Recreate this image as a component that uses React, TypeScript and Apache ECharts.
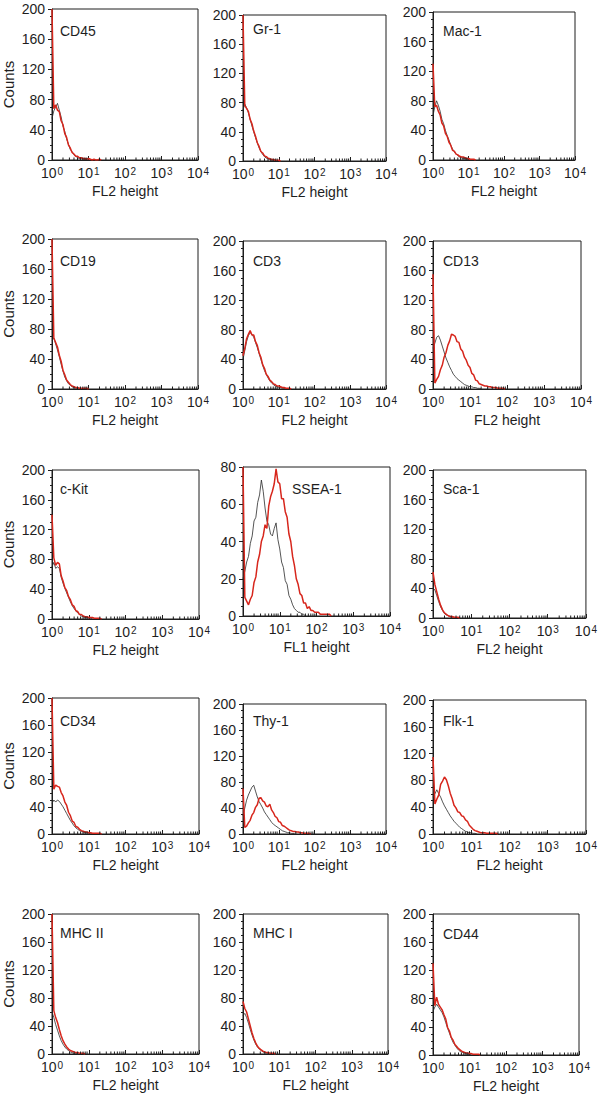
import React, { useEffect, useRef } from "react";
import * as echarts from "echarts";

// Histogram channels: channel i sits at 10^(i * CHANNEL_STEP)
const CHANNEL_STEP = 0.05;

const markers = ["CD45", "Gr-1", "Mac-1", "CD19", "CD3", "CD13", "c-Kit", "SSEA-1", "Sca-1", "CD34", "Thy-1", "Flk-1", "MHC II", "MHC I", "CD44"];
const xAxisNames = ["FL2 height", "FL2 height", "FL2 height", "FL2 height", "FL2 height", "FL2 height", "FL2 height", "FL1 height", "FL2 height", "FL2 height", "FL2 height", "FL2 height", "FL2 height", "FL2 height", "FL2 height"];
const yMaxes = [200, 200, 200, 200, 200, 200, 200, 80, 200, 200, 200, 200, 200, 200, 200];
const yIntervals = [40, 40, 40, 40, 40, 40, 40, 20, 40, 40, 40, 40, 40, 40, 40];
const decadeTicks = [1, 10, 100, 1000, 10000];
const minorDecadeSteps = [2, 3, 4, 5, 6, 7, 8, 9];

// stained sample (red) and isotype control (black), counts per channel
const cd45Stained = [200, 68, 73, 66, 64, 52, 47, 35, 30, 20, 16, 10, 8, 5, 5, 3, 3, 2, 2, 1, 2, 1, 0, 1, 0, 0, 1, 0];
const cd45Control = [55, 65, 70, 75, 66, 57, 45, 38, 28, 21, 14, 11, 7, 5, 3, 2, 2, 1, 1, 0];
const gr1Stained = [200, 76, 72, 68, 57, 51, 41, 34, 25, 20, 13, 11, 7, 6, 4, 3, 2, 2, 1, 1, 1, 0];
const gr1Control = [70, 78, 73, 66, 57, 48, 40, 32, 25, 18, 13, 9, 6, 4, 3, 2, 1, 1, 0];
const mac1Stained = [130, 72, 74, 66, 61, 50, 46, 36, 32, 24, 20, 13, 12, 8, 7, 5, 4, 4, 3, 2, 2, 1, 1, 1, 0];
const mac1Control = [60, 72, 80, 74, 66, 55, 49, 40, 33, 27, 20, 15, 11, 8, 6, 4, 3, 2, 2, 1, 1, 0];
const cd19Stained = [200, 68, 62, 56, 45, 37, 25, 19, 12, 9, 6, 4, 3, 2, 2, 1, 1, 1, 1, 1, 0];
const cd19Control = [65, 68, 60, 52, 43, 33, 24, 16, 11, 7, 5, 3, 2, 1, 1, 0];
const cd3Stained = [45, 55, 68, 74, 79, 73, 73, 64, 59, 49, 43, 33, 28, 20, 17, 12, 10, 7, 6, 4, 4, 3, 2, 2, 1, 1, 1, 0];
const cd3Control = [40, 52, 64, 72, 76, 74, 70, 63, 56, 48, 40, 32, 25, 20, 15, 11, 8, 6, 4, 3, 2, 2, 1, 1, 0];
const cd13Stained = [155, 8, 13, 17, 26, 32, 43, 49, 59, 65, 74, 73, 71, 64, 63, 54, 51, 43, 39, 32, 29, 21, 19, 12, 11, 7, 6, 5, 4, 4, 3, 3, 2, 2, 2, 1, 1, 1, 1, 0];
const cd13Control = [55, 62, 70, 72, 66, 58, 50, 42, 36, 30, 25, 20, 17, 14, 12, 10, 8, 6, 5, 4, 3, 3, 2, 2, 1, 1, 0];
const cKitStained = [140, 82, 72, 76, 74, 58, 51, 42, 38, 30, 26, 19, 17, 11, 10, 6, 6, 4, 3, 3, 2, 2, 2, 1, 1, 1, 1, 0];
const cKitControl = [70, 76, 68, 70, 68, 56, 48, 41, 35, 29, 23, 18, 14, 11, 8, 6, 4, 3, 2, 2, 1, 1, 0];
const ssea1Stained = [80, 10, 8, 6, 9, 11, 18, 21, 29, 33, 40, 43, 49, 47, 59, 64, 67, 71, 79, 72, 71, 63, 63, 56, 53, 44, 40, 32, 27, 20, 17, 12, 11, 7, 7, 4, 5, 3, 3, 2, 2, 2, 1, 1, 1, 1, 1, 1, 0];
const ssea1Control = [20, 24, 29, 32, 39, 43, 51, 53, 61, 65, 73, 67, 58, 51, 49, 44, 43, 47, 50, 41, 36, 29, 26, 19, 17, 11, 9, 6, 4, 3, 2, 2, 1, 1, 0];
const sca1Stained = [62, 45, 35, 25, 17, 11, 7, 5, 3, 2, 2, 1, 1, 1, 0];
const sca1Control = [40, 38, 30, 22, 15, 10, 6, 4, 3, 2, 1, 1, 0];
const cd34Stained = [200, 66, 72, 70, 69, 61, 56, 47, 42, 32, 27, 19, 17, 11, 10, 7, 5, 4, 3, 3, 2, 2, 1, 1, 1, 1, 1, 0];
const cd34Control = [45, 50, 47, 50, 48, 44, 40, 35, 30, 25, 20, 16, 12, 9, 7, 5, 4, 3, 2, 2, 1, 1, 0];
const thy1Stained = [70, 10, 12, 17, 21, 29, 33, 41, 45, 55, 56, 51, 49, 43, 42, 46, 37, 33, 27, 25, 19, 18, 13, 12, 10, 8, 6, 5, 4, 4, 3, 3, 2, 2, 1, 1, 1, 1, 0];
const thy1Control = [28, 40, 52, 60, 66, 72, 75, 66, 57, 50, 45, 40, 34, 30, 26, 22, 18, 15, 13, 11, 9, 7, 5, 4, 3, 2, 2, 1, 1, 0];
const flk1Stained = [115, 45, 52, 58, 74, 79, 85, 81, 72, 61, 53, 43, 39, 33, 32, 27, 26, 21, 19, 13, 10, 7, 5, 4, 3, 2, 2, 2, 1, 1, 1, 1, 1, 1, 0];
const flk1Control = [55, 60, 66, 60, 55, 48, 42, 37, 32, 27, 23, 19, 16, 13, 10, 8, 6, 4, 3, 2, 2, 1, 1, 0];
const mhc2Stained = [200, 62, 52, 45, 35, 26, 19, 14, 10, 7, 5, 4, 3, 2, 2, 1, 1, 1, 0];
const mhc2Control = [60, 52, 42, 34, 26, 19, 14, 10, 7, 5, 3, 2, 1, 1, 0];
const mhc1Stained = [75, 65, 60, 50, 40, 30, 22, 16, 11, 8, 6, 4, 3, 2, 2, 1, 1, 1, 0];
const mhc1Control = [55, 58, 52, 44, 35, 27, 20, 14, 10, 7, 5, 3, 2, 1, 1, 0];
const cd44Stained = [130, 70, 82, 72, 68, 64, 57, 51, 39, 34, 25, 21, 15, 12, 9, 7, 5, 4, 3, 3, 2, 2, 1, 1, 1, 1, 0];
const cd44Control = [62, 68, 72, 68, 64, 60, 54, 46, 38, 31, 24, 18, 14, 10, 7, 5, 4, 3, 2, 1, 1, 0];

const stainedSeries = [cd45Stained, gr1Stained, mac1Stained, cd19Stained, cd3Stained, cd13Stained, cKitStained, ssea1Stained, sca1Stained, cd34Stained, thy1Stained, flk1Stained, mhc2Stained, mhc1Stained, cd44Stained];
const controlSeries = [cd45Control, gr1Control, mac1Control, cd19Control, cd3Control, cd13Control, cKitControl, ssea1Control, sca1Control, cd34Control, thy1Control, flk1Control, mhc2Control, mhc1Control, cd44Control];

// panel plot boxes: [left, top, right, bottom] in px
const boxes = [
  [50, 9, 198, 160], [243, 15, 386, 161], [433, 12, 575, 160],
  [50, 239, 198, 389], [243, 241, 386, 389], [433, 241, 581, 389],
  [50, 470, 199, 619], [243, 467, 390, 616], [433, 470, 587, 618],
  [50, 698, 199, 834], [243, 704, 386, 834], [433, 700, 589, 834],
  [50, 914, 199, 1054], [243, 914, 388, 1054], [433, 914, 579, 1055],
];
const labelOffsetX = [10, 10, 10, 10, 10, 10, 10, 49, 10, 10, 10, 10, 10, 10, 10];
const labelCenterY = [32, 30, 32, 262, 262, 262, 490, 490, 490, 722, 722, 722, 934, 934, 935];

const FONT = "'Liberation Sans', Arial, Helvetica, sans-serif";
const RED = "#d7261c";
const INK = "#1e1e1e";

const toPoints = (counts: number[]) => counts.map((c, i) => [Math.pow(10, i * CHANNEL_STEP), c]);

export default function App() {
  const ref = useRef<HTMLDivElement>(null);
  useEffect(() => {
    if (!ref.current) return;
    const chart = echarts.init(ref.current, null, { renderer: "svg" });
    const minorVals: number[] = [];
    for (let d = 0; d < 4; d++) for (const k of minorDecadeSteps) minorVals.push(k * Math.pow(10, d));

    const grid: any[] = [];
    const xAxis: any[] = [];
    const yAxis: any[] = [];
    const series: any[] = [];
    const graphic: any[] = [];

    boxes.forEach((b, i) => {
      const [l, t, r, bt] = b;
      grid.push({ left: l, top: t, width: r - l, height: bt - t, show: true, borderColor: INK, borderWidth: 1, backgroundColor: "transparent" });
      xAxis.push({
        type: "log", logBase: 10, min: decadeTicks[0], max: decadeTicks[decadeTicks.length - 1], gridIndex: i,
        name: xAxisNames[i], nameLocation: "middle", nameGap: 24,
        nameTextStyle: { fontFamily: FONT, fontSize: 14, color: INK },
        axisLine: { lineStyle: { color: INK, width: 1 } },
        axisTick: { inside: true, length: 4, lineStyle: { color: INK } },
        splitLine: { show: false },
        axisLabel: {
          margin: 6, color: INK, fontFamily: FONT,
          formatter: (v: number) => `{b|10}{s|${Math.round(Math.log10(v))}}`,
          rich: {
            b: { fontSize: 14, fontFamily: FONT, color: INK, verticalAlign: "bottom" },
            s: { fontSize: 10, fontFamily: FONT, color: INK, verticalAlign: "top", padding: [0, 0, 0, 1] },
          },
        },
      });
      yAxis.push({
        type: "value", min: 0, max: yMaxes[i], interval: yIntervals[i], gridIndex: i,
        name: i % 3 === 0 ? "Counts" : "", nameLocation: "middle", nameGap: 36,
        nameTextStyle: { fontFamily: FONT, fontSize: 15, color: INK },
        axisLine: { show: true, lineStyle: { color: INK, width: 1 } },
        axisTick: { show: true, length: 4, lineStyle: { color: INK } },
        minorTick: { show: true, splitNumber: 4, length: 2, lineStyle: { color: INK } },
        splitLine: { show: false },
        axisLabel: { margin: 7, fontSize: 14, fontFamily: FONT, color: INK },
      });
      series.push({
        type: "line", xAxisIndex: i, yAxisIndex: i, data: toPoints(controlSeries[i]), showSymbol: false, symbol: "none",
        lineStyle: { color: "#2a2a2a", width: 0.8 }, z: 2,
      });
      series.push({
        type: "line", xAxisIndex: i, yAxisIndex: i, data: toPoints(stainedSeries[i]), showSymbol: false, symbol: "none",
        lineStyle: { color: RED, width: 1.5 }, z: 3,
      });
      series.push({
        type: "custom", xAxisIndex: i, yAxisIndex: i, silent: true, z: 4,
        data: minorVals.map((v) => [v, 0]),
        encode: { x: 0, y: 1 },
        renderItem: (params: any, api: any) => {
          const p = api.coord([api.value(0), 0]);
          return { type: "line", shape: { x1: p[0], y1: p[1], x2: p[0], y2: p[1] - 2.5 }, style: { stroke: INK, lineWidth: 1 } };
        },
      });
      graphic.push({
        type: "text", left: l + labelOffsetX[i], top: labelCenterY[i] - 8,
        style: { text: markers[i], fontFamily: FONT, fontSize: 14, fill: INK },
      });
    });

    chart.setOption({ animation: false, backgroundColor: "#ffffff", grid, xAxis, yAxis, series, graphic });
    return () => chart.dispose();
  }, []);
  return <div ref={ref} style={{ position: "absolute", left: 0, top: 0, width: 600, height: 1097 }} />;
}
